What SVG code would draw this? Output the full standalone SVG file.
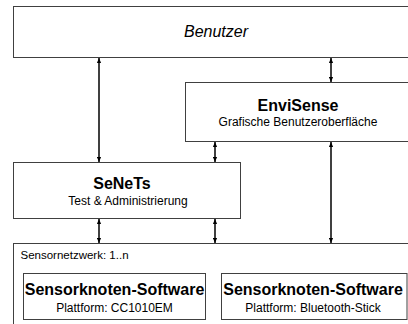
<svg xmlns="http://www.w3.org/2000/svg" width="408" height="324" viewBox="0 0 408 324">
  <style>
    .box { fill: #ffffff; stroke: #404040; stroke-width: 1; }
    .t { font-family: "Liberation Sans", Arial, sans-serif; fill: #000; text-anchor: middle; }
    .title { font-weight: bold; font-size: 16px; }
    .sub { font-size: 12px; }
    .lbl { font-family: "Liberation Sans", Arial, sans-serif; font-size: 11.5px; fill: #000; }
    .link { stroke: #000; stroke-width: 1.5; fill: none; marker-start: url(#head); marker-end: url(#head); }
  </style>
  <defs>
    <marker id="head" viewBox="0 0 6 6" refX="6" refY="3" markerWidth="5" markerHeight="5" markerUnits="userSpaceOnUse" orient="auto-start-reverse">
      <path d="M0,0.5 L6,3 L0,5.5 Z" fill="#000"/>
    </marker>
  </defs>
  <rect width="408" height="324" fill="#ffffff"/>

  <g id="benutzer">
    <rect class="box" x="13.5" y="6.5" width="420" height="51"/>
    <text class="t" x="216" y="37" font-size="16" font-style="italic">Benutzer</text>
  </g>

  <g id="envisense">
    <rect class="box" x="185.5" y="82.5" width="300" height="59"/>
    <text class="t title" x="298" y="111">EnviSense</text>
    <text class="t sub" x="298" y="126">Grafische Benutzeroberfläche</text>
  </g>

  <g id="senets">
    <rect class="box" x="13.5" y="162.5" width="227" height="56"/>
    <text class="t title" x="122" y="189" font-size="14">SeNeTs</text>
    <text class="t sub" x="128" y="205">Test &amp; Administrierung</text>
  </g>

  <g id="sensornetzwerk">
    <rect class="box" x="13.5" y="243.5" width="420" height="100"/>
    <text class="lbl" x="20.5" y="259">Sensornetzwerk: 1..n</text>
  </g>

  <g id="knoten-cc1010">
    <rect class="box" x="23.5" y="273.5" width="182" height="46"/>
    <text class="t title" x="114.5" y="294.5" font-size="15.5">Sensorknoten-Software</text>
    <text class="t sub" x="114.5" y="312">Plattform: CC1010EM</text>
  </g>

  <g id="knoten-bluetooth">
    <rect class="box" x="221.5" y="273.5" width="185.5" height="46"/>
    <text class="t title" x="313" y="294.5" font-size="15.5">Sensorknoten-Software</text>
    <text class="t sub" x="313" y="312">Plattform: Bluetooth-Stick</text>
  </g>

  <g id="connectors">
    <line class="link" x1="99" y1="58" x2="99" y2="162"/>
    <line class="link" x1="331" y1="58" x2="331" y2="82"/>
    <line class="link" x1="215" y1="142" x2="215" y2="162"/>
    <line class="link" x1="331" y1="142" x2="331" y2="243"/>
    <line class="link" x1="99" y1="219" x2="99" y2="243"/>
    <line class="link" x1="215" y1="219" x2="215" y2="243"/>
  </g>
</svg>
